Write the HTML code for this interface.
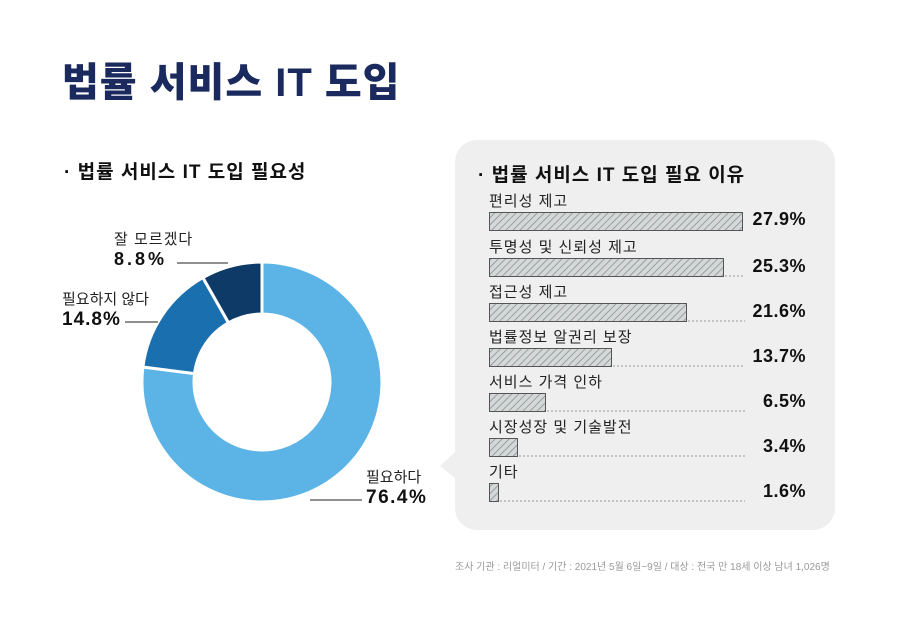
<!DOCTYPE html>
<html><head><meta charset="utf-8"><style>
body{margin:0;width:897px;height:624px;background:#fff;overflow:hidden;font-family:"Liberation Sans","Noto Sans CJK KR",sans-serif;position:relative}
.a{position:absolute;white-space:nowrap}
</style></head><body>
<div class="a" style="left:62px;top:50px;font-size:40px;font-weight:900;color:#1b2a5e;letter-spacing:1px">법률 서비스 IT 도입</div>
<div class="a" style="left:64px;top:157px;font-size:19px;font-weight:700;color:#111;letter-spacing:1px">· 법률 서비스 IT 도입 필요성</div>
<svg class="a" style="left:0;top:0" width="897" height="624">
<defs><pattern id="h" width="5" height="5" patternUnits="userSpaceOnUse" patternTransform="rotate(45)"><rect width="5" height="5" fill="#d4d8d8"/><line x1="0" y1="0" x2="0" y2="5" stroke="#8a9090" stroke-width="1.6"/></pattern></defs>
<rect x="455" y="140" width="380" height="390" rx="22" fill="#efefef"/>
<polygon points="455,452 440,466 455,478" fill="#efefef"/>
<g stroke="#fff" stroke-width="3">
<path d="M262,262 A120,120 0 1 1 142.9,367.0 L194.5,373.6 A68,68 0 1 0 262,314 Z" fill="#5cb3e6"/>
<path d="M142.9,367.0 A120,120 0 0 1 202.9,277.6 L228.5,322.8 A68,68 0 0 0 194.5,373.6 Z" fill="#1a6faf"/>
<path d="M202.9,277.6 A120,120 0 0 1 262,262 L262,314 A68,68 0 0 0 228.5,322.8 Z" fill="#0d3a66"/>
</g>
<g stroke="#222" stroke-width="1" fill="none">
<line x1="177" y1="263" x2="228" y2="263"/>
<line x1="125" y1="322" x2="158" y2="322"/>
<line x1="310" y1="500" x2="362" y2="500"/>
</g>
<g fill="url(#h)" stroke="#555" stroke-width="1">
<rect x="489.5" y="212.5" width="253" height="18"/>
<rect x="489.5" y="258.5" width="234" height="18"/>
<rect x="489.5" y="303.5" width="197" height="18"/>
<rect x="489.5" y="348.5" width="122" height="18"/>
<rect x="489.5" y="393.5" width="56" height="18"/>
<rect x="489.5" y="438.5" width="28" height="18"/>
<rect x="489.5" y="483.5" width="9" height="18"/>
</g>
<g stroke="#999" stroke-width="1" stroke-dasharray="2,2">
<line x1="725" y1="276" x2="745" y2="276"/>
<line x1="688" y1="321" x2="745" y2="321"/>
<line x1="613" y1="366" x2="745" y2="366"/>
<line x1="547" y1="411" x2="745" y2="411"/>
<line x1="519" y1="456" x2="745" y2="456"/>
<line x1="500" y1="501" x2="745" y2="501"/>
</g>
</svg>
<div class="a" style="left:114px;top:228px;font-size:15px;color:#222;letter-spacing:1px">잘 모르겠다</div>
<div class="a" style="left:114px;top:249px;font-size:18px;font-weight:700;color:#111;letter-spacing:3px">8.8%</div>
<div class="a" style="left:62px;top:288px;font-size:15px;color:#222">필요하지 않다</div>
<div class="a" style="left:62px;top:309px;font-size:19px;font-weight:700;color:#111;letter-spacing:1px">14.8%</div>
<div class="a" style="left:366px;top:466px;font-size:15px;color:#222">필요하다</div>
<div class="a" style="left:366px;top:487px;font-size:19px;font-weight:700;color:#111;letter-spacing:1.5px">76.4%</div>
<div class="a" style="left:478px;top:160px;font-size:19px;font-weight:700;color:#111;letter-spacing:1px">· 법률 서비스 IT 도입 필요 이유</div>
<div style="position:absolute;left:489px;top:190px;font-size:15px;color:#222;letter-spacing:1px">
<div class="a" style="top:0">편리성 제고</div>
<div class="a" style="top:46px">투명성 및 신뢰성 제고</div>
<div class="a" style="top:91px">접근성 제고</div>
<div class="a" style="top:136px">법률정보 알권리 보장</div>
<div class="a" style="top:181px">서비스 가격 인하</div>
<div class="a" style="top:226px">시장성장 및 기술발전</div>
<div class="a" style="top:271px">기타</div>
</div>
<div style="position:absolute;left:700px;width:106px;top:209px;font-size:18px;font-weight:700;color:#111;text-align:right;letter-spacing:0.5px">
<div style="position:absolute;right:0;top:0">27.9%</div>
<div style="position:absolute;right:0;top:47px">25.3%</div>
<div style="position:absolute;right:0;top:92px">21.6%</div>
<div style="position:absolute;right:0;top:137px">13.7%</div>
<div style="position:absolute;right:0;top:182px">6.5%</div>
<div style="position:absolute;right:0;top:227px">3.4%</div>
<div style="position:absolute;right:0;top:272px">1.6%</div>
</div>
<div class="a" style="left:455px;top:558px;font-size:10px;color:#999">조사 기관 : 리얼미터 / 기간 : 2021년 5월 6일~9일 / 대상 : 전국 만 18세 이상 남녀 1,026명</div>
</body></html>
